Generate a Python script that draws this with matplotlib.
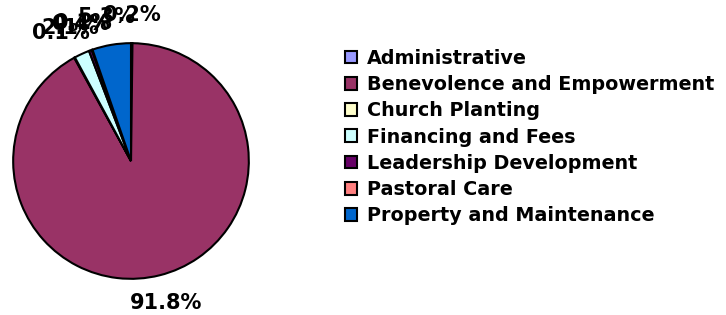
import matplotlib
matplotlib.use("Agg")
import matplotlib.pyplot as plt

categories = ["Administrative", "Benevolence and Empowerment", "Church Planting",
              "Financing and Fees", "Leadership Development", "Pastoral Care",
              "Property and Maintenance"]
shares = [0.2, 91.8, 0.1, 2.1, 0.4, 0.1, 5.3]
colors = ["#9999FF", "#993366", "#FFFFCC", "#CCFFFF", "#660066", "#FF8080", "#0066CC"]

plt.rcParams['font.family'] = ['DejaVu Sans']

fig = plt.figure(figsize=(7.26, 3.15), dpi=100)
ax = fig.add_axes([12 / 726, 35 / 315, 238 / 726, 238 / 315])

wedges, texts = ax.pie(shares, colors=colors, startangle=90, counterclock=False,
                       labels=[f"{v:.1f}%" for v in shares], labeldistance=1.24,
                       wedgeprops=dict(edgecolor="black", linewidth=1.5))
for t in texts:
    t.set_ha("center")
    t.set_va("center")
    t.set_fontsize(15)
    t.set_fontweight("bold")
ax.set_xlim(-1.01, 1.01)
ax.set_ylim(-1.01, 1.01)
ax.set_aspect("equal")

leg = fig.legend(wedges, categories, loc="upper left", bbox_to_anchor=(337 / 726, 1 - 41 / 315),
                 frameon=False, prop=dict(size=13.8, weight="bold"),
                 handlelength=0.65, handleheight=0.65, handletextpad=0.5,
                 labelspacing=0.38, borderaxespad=0)

fig.savefig("out.png", dpi=100)
